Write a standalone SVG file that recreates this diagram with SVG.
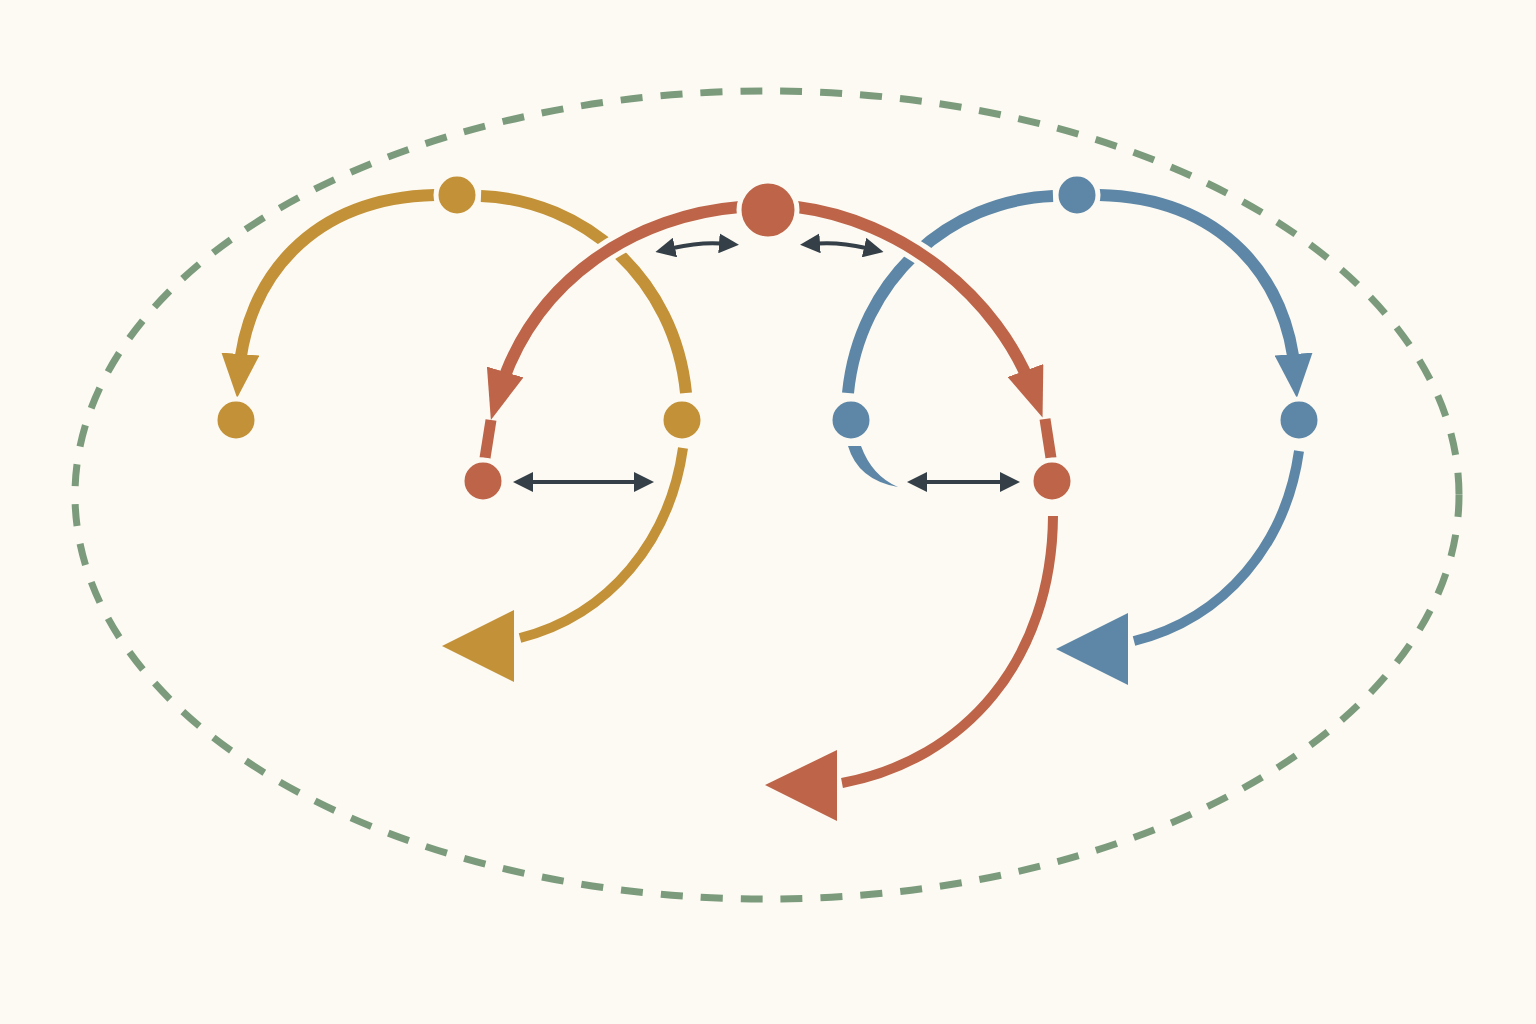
<svg xmlns="http://www.w3.org/2000/svg" width="1536" height="1024" viewBox="0 0 1536 1024">
<defs>
<style>
.arc{fill:none;stroke-linecap:butt}
.gold{stroke:#c39137}
.red{stroke:#bd6449}
.blue{stroke:#5e87a7}
.halo{fill:none;stroke:#fcfaf2}
.dk{fill:none;stroke:#343f47;stroke-width:4}
.node{stroke:#fcfaf2;stroke-width:5}
</style>
<marker id="ag" markerUnits="userSpaceOnUse" viewBox="0 0 44 38" markerWidth="44" markerHeight="38" refX="19" refY="19" orient="auto"><path d="M0,0 L44,19 L0,38 z" fill="#c39137"/></marker>
<marker id="ar" markerUnits="userSpaceOnUse" viewBox="0 0 50 38" markerWidth="50" markerHeight="38" refX="25" refY="19" orient="auto"><path d="M0,0 L50,19 L0,38 z" fill="#bd6449"/></marker>
<marker id="ab" markerUnits="userSpaceOnUse" viewBox="0 0 44 38" markerWidth="44" markerHeight="38" refX="19" refY="19" orient="auto"><path d="M0,0 L44,19 L0,38 z" fill="#5e87a7"/></marker>
<marker id="ad" markerUnits="userSpaceOnUse" viewBox="0 0 20 20" markerWidth="20" markerHeight="20" refX="2" refY="10" orient="auto-start-reverse"><path d="M0,0 L20,10 L0,20 z" fill="#343f47"/></marker>
</defs>
<rect width="1536" height="1024" fill="#fcfaf2"/>
<ellipse id="boundary" cx="767" cy="495" rx="692" ry="404" fill="none" stroke="#7b9b7c" stroke-width="7" stroke-dasharray="22 18"/>
<g id="connectors">
<path class="arc gold" stroke-width="12" d="M435 195 C310 198 246 280 239 373" marker-end="url(#ag)"/>
<path class="arc gold" stroke-width="12" d="M481 196 C585 200 675 280 686 393"/>
<path class="arc gold" stroke-width="10" d="M683 448 C670 540 610 615 520 638"/>
<polygon points="442,646 514,610 514,682" fill="#c39137"/>
<path class="arc blue" stroke-width="12" d="M1099 195 C1224 198 1288 280 1295 373" marker-end="url(#ab)"/>
<path class="arc blue" stroke-width="12" d="M1053 196 C949 200 859 280 848 393"/>
<path d="M848 446 Q858 480 898 487 Q872 476 861 446 Z" fill="#5e87a7"/>
<path class="arc blue" stroke-width="10" d="M1299 451 C1286 543 1226 618 1134 641"/>
<polygon points="1056,649 1128,613 1128,685" fill="#5e87a7"/>
<path class="halo" stroke-width="22" d="M740 207 C640 215 534 275 498 396"/>
<path class="halo" stroke-width="22" d="M797 207 C900 220 998 295 1034 394"/>
<path class="arc red" stroke-width="12" d="M740 207 C640 215 534 275 498 396" marker-end="url(#ar)"/>
<path class="arc red" stroke-width="12" d="M797 207 C900 220 998 295 1034 394" marker-end="url(#ar)"/>
<path class="arc red" stroke-width="11" d="M491 420 L485 458"/>
<path class="arc red" stroke-width="11" d="M1045 419 L1051 458"/>
<path class="arc red" stroke-width="10" d="M1053 516 C1052 660 965 760 842 783"/>
<polygon points="765,785 837,750 837,821" fill="#bd6449"/>
<path class="dk" d="M531 482 L636 482" marker-start="url(#ad)" marker-end="url(#ad)"/>
<path class="dk" d="M925 482 L1002 482" marker-start="url(#ad)" marker-end="url(#ad)"/>
<path class="dk" d="M673 248 Q700 242 721 243.5" marker-start="url(#ad)" marker-end="url(#ad)"/>
<path class="dk" d="M818 243.5 Q840 242 866 248" marker-start="url(#ad)" marker-end="url(#ad)"/>
</g>
<g id="gold-top"><circle class="node" cx="457" cy="195" r="21" fill="#c39137"/></g>
<g id="gold-left"><circle class="node" cx="236" cy="420" r="21" fill="#c39137"/></g>
<g id="gold-right"><circle class="node" cx="682" cy="420" r="21" fill="#c39137"/></g>
<g id="red-top"><circle class="node" cx="768" cy="210" r="29" fill="#bd6449"/></g>
<g id="red-left"><circle class="node" cx="483" cy="481" r="21" fill="#bd6449"/></g>
<g id="red-right"><circle class="node" cx="1052" cy="481" r="21" fill="#bd6449"/></g>
<g id="blue-top"><circle class="node" cx="1077" cy="195" r="21" fill="#5e87a7"/></g>
<g id="blue-left"><circle class="node" cx="851" cy="420" r="21" fill="#5e87a7"/></g>
<g id="blue-right"><circle class="node" cx="1299" cy="420" r="21" fill="#5e87a7"/></g>
</svg>
